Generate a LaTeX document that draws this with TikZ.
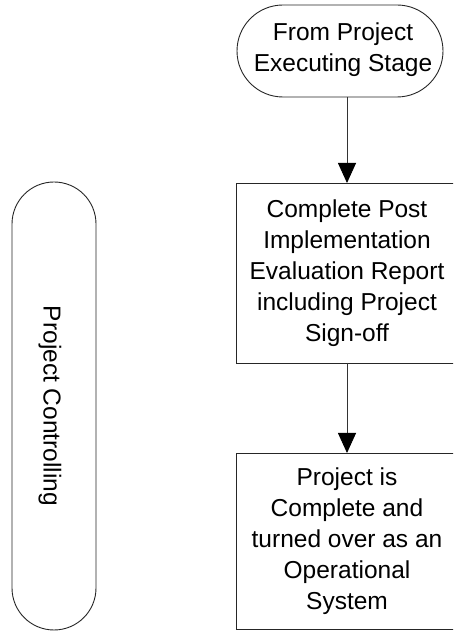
\documentclass[tikz,border=0pt]{standalone}
\usepackage{fontspec}
\setmainfont{Liberation Sans}
\usetikzlibrary{arrows.meta}
\begin{document}
\begin{tikzpicture}[x=1pt,y=1pt,
  every node/.style={inner sep=0pt, outer sep=0pt},
  shapeline/.style={draw=black!85, line width=0.9pt},
  txt/.style={font=\fontsize{24.5}{31}\selectfont, align=center, text=black},
  flowbox/.style={shapeline, txt, minimum width=222pt},
  conn/.style={draw=black!80, line width=0.9pt, -{Triangle[length=20pt,width=18pt,fill=black,color=black]}}
]
\clip (0,0) rectangle (453,632);
\useasboundingbox (0,0) rectangle (453,632);
% left stadium
\node[shapeline, rounded corners=42pt, minimum width=84pt, minimum height=448pt] (ctrl) at (54,226) {};
\node[txt, rotate=-90] (ctrltext) at (50,226) {Project Controlling};
% terminator
\node[shapeline, rounded corners=46pt, minimum width=206pt, minimum height=92pt] (start) at (340,581) {};
\node[txt] (starttext) at (343,582) {From Project\\Executing Stage};
% box 1
\node[flowbox, minimum height=180pt] (eval) at (347,359) {Complete Post\\Implementation\\Evaluation Report\\including Project\\Sign-off};
% box 2
\node[flowbox, minimum height=176pt] (done) at (347,91) {Project is\\Complete and\\turned over as an\\Operational\\System};
% connectors
\draw[conn] (start.south -| eval.north) -- (eval.north);
\draw[conn] (eval.south) -- (done.north);
\end{tikzpicture}
\end{document}
